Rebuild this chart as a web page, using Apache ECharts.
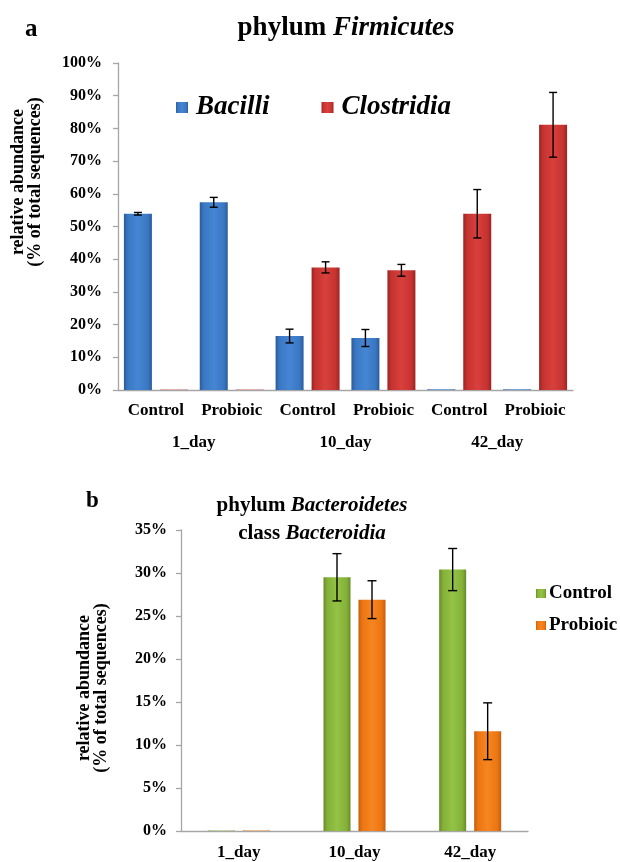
<!DOCTYPE html>
<html>
<head>
<meta charset="utf-8">
<script src="https://cdn.jsdelivr.net/npm/echarts@6/dist/echarts.min.js"></script>
<style>
  html, body { margin: 0; padding: 0; background: #fff; }
  #chart { width: 620px; height: 862px; }
</style>
</head>
<body>
<div id="chart"></div>
<script>
// ---- Panel a: phylum Firmicutes (relative abundance, %) ----
const subGroups = ['Control', 'Probioic', 'Control', 'Probioic', 'Control', 'Probioic'];
const days = ['1_day', '10_day', '42_day'];
const bacilli = [53.9, 57.4, 16.5, 15.9, 0.2, 0.2];
const bacilliErr = [0.4, 1.5, 2.1, 2.6, 0, 0];
const clostridia = [0.1, 0.1, 37.5, 36.6, 53.9, 81.1];
const clostridiaErr = [0, 0, 1.7, 1.8, 7.4, 9.9];
const yTicksA = { min: 0, max: 100, interval: 10 };

// ---- Panel b: phylum Bacteroidetes, class Bacteroidia ----
const controlB = [0.05, 29.5, 30.4];
const controlBErr = [0, 2.75, 2.45];
const probioicB = [0.05, 26.9, 11.6];
const probioicBErr = [0, 2.2, 3.3];
const yTicksB = { min: 0, max: 35, interval: 5 };

const SERIF = '"Liberation Serif", "Times New Roman", serif';
const AXIS_GRAY = '#a6a6a6';

function bevel(dark, mid, light) {
  return new echarts.graphic.LinearGradient(0, 0, 1, 0, [
    { offset: 0, color: dark },
    { offset: 0.14, color: mid },
    { offset: 0.5, color: light },
    { offset: 0.86, color: mid },
    { offset: 1, color: dark }
  ]);
}
const BLUE = bevel('#2a5b98', '#3a77c3', '#4586d4');
const RED = bevel('#9c2422', '#c53330', '#d8403c');
const GREEN = bevel('#678b28', '#84b038', '#93c346');
const ORANGE = bevel('#c45d0a', '#ec7512', '#f68621');

// error bars drawn through the axis scales; offset shifts to the bar's slot
function errorBars(offset, cap) {
  return function (params, api) {
    const err = api.value(2);
    if (!err) return null;
    const cat = api.value(0), v = api.value(1);
    const x = api.coord([cat, v])[0] + offset;
    const yHi = api.coord([cat, v + err])[1];
    const yLo = api.coord([cat, v - err])[1];
    const style = { stroke: '#000', lineWidth: 1.4 };
    return {
      type: 'group',
      children: [
        { type: 'line', shape: { x1: x, y1: yHi, x2: x, y2: yLo }, style },
        { type: 'line', shape: { x1: x - cap, y1: yHi, x2: x + cap, y2: yHi }, style },
        { type: 'line', shape: { x1: x - cap, y1: yLo, x2: x + cap, y2: yLo }, style }
      ]
    };
  };
}
function errData(vals, errs) {
  return vals.map((v, i) => [i, v, errs[i]]);
}

const BAR_A = 28, GAP_A = 8;
const BAR_B = 27, GAP_B = 8;
const offA = (BAR_A + GAP_A) / 2;
const offB = (BAR_B + GAP_B) / 2;

const axisLabelFont = { fontFamily: SERIF, fontWeight: 'bold', color: '#000' };

const option = {
  animation: false,
  backgroundColor: '#fff',
  title: [
    { text: 'a', left: 20, top: 12, textStyle: { fontFamily: SERIF, fontWeight: 'bold', fontSize: 25, color: '#000' } },
    {
      text: '{n|phylum }{i|Firmicutes}', left: 341, top: 10, textAlign: 'center',
      textStyle: {
        rich: {
          n: { fontFamily: SERIF, fontWeight: 'bold', fontSize: 27, color: '#000' },
          i: { fontFamily: SERIF, fontWeight: 'bold', fontStyle: 'italic', fontSize: 27, color: '#000' }
        }
      }
    },
    { text: 'b', left: 81, top: 485, textStyle: { fontFamily: SERIF, fontWeight: 'bold', fontSize: 23, color: '#000' } },
    {
      text: '{n|phylum }{i|Bacteroidetes}\n{n|class }{i|Bacteroidia}', left: 307, top: 487, textAlign: 'center',
      textStyle: {
        lineHeight: 28,
        rich: {
          n: { fontFamily: SERIF, fontWeight: 'bold', fontSize: 21, color: '#000', lineHeight: 28 },
          i: { fontFamily: SERIF, fontWeight: 'bold', fontStyle: 'italic', fontSize: 21, color: '#000', lineHeight: 28 }
        }
      }
    }
  ],
  legend: [
    {
      data: ['Bacilli', 'Clostridia'], left: 171, top: 89, itemWidth: 12, itemHeight: 11, itemGap: 52,
      icon: 'rect',
      textStyle: { fontFamily: SERIF, fontWeight: 'bold', fontStyle: 'italic', fontSize: 27, color: '#000', padding: [0, 0, 0, 3] }
    },
    {
      data: ['Control', 'Probioic'], left: 531, top: 579, orient: 'vertical', itemWidth: 10, itemHeight: 9, itemGap: 13,
      icon: 'rect',
      textStyle: { fontFamily: SERIF, fontWeight: 'bold', fontSize: 19, color: '#000', padding: [0, 0, 0, -2] }
    }
  ],
  graphic: [
    {
      type: 'text', x: 27, y: 182, rotation: Math.PI / 2,
      style: {
        text: 'relative abundance\n(% of total sequences)', align: 'center', verticalAlign: 'middle',
        fontFamily: SERIF, fontWeight: 'bold', fontSize: 18, lineHeight: 17, fill: '#000'
      }
    },
    {
      type: 'text', x: 93, y: 688, rotation: Math.PI / 2,
      style: {
        text: 'relative abundance\n(% of total sequences)', align: 'center', verticalAlign: 'middle',
        fontFamily: SERIF, fontWeight: 'bold', fontSize: 18, lineHeight: 17, fill: '#000'
      }
    }
  ],
  grid: [
    { left: 118, right: 47, top: 63, bottom: 472 },
    { left: 181, right: 92, top: 530, bottom: 31 }
  ],
  xAxis: [
    {
      type: 'category', gridIndex: 0, data: subGroups,
      axisLine: { lineStyle: { color: AXIS_GRAY, width: 1.3 } },
      axisTick: { alignWithLabel: false, interval: 0, length: 32, lineStyle: { color: AXIS_GRAY, width: 1.3 } },
      axisLabel: Object.assign({ fontSize: 17, margin: 12, interval: 0 }, axisLabelFont)
    },
    {
      type: 'category', gridIndex: 0, data: days, position: 'bottom',
      axisLine: { show: false },
      axisTick: { interval: 0, length: 63, lineStyle: { color: AXIS_GRAY, width: 1.3 } },
      axisLabel: Object.assign({ fontSize: 17, margin: 44, interval: 0 }, axisLabelFont)
    },
    {
      type: 'category', gridIndex: 1, data: days,
      axisLine: { lineStyle: { color: AXIS_GRAY, width: 1.3 } },
      axisTick: { interval: 0, length: 6, lineStyle: { color: AXIS_GRAY, width: 1.3 } },
      axisLabel: Object.assign({ fontSize: 17, margin: 13, interval: 0 }, axisLabelFont)
    }
  ],
  yAxis: [
    {
      type: 'value', gridIndex: 0, min: yTicksA.min, max: yTicksA.max, interval: yTicksA.interval,
      axisLine: { show: true, lineStyle: { color: AXIS_GRAY, width: 1.3 } },
      axisTick: { show: true, length: 5, lineStyle: { color: AXIS_GRAY, width: 1.3 } },
      splitLine: { show: false },
      axisLabel: Object.assign({ fontSize: 16, margin: 16, formatter: '{value}%' }, axisLabelFont)
    },
    {
      type: 'value', gridIndex: 1, min: yTicksB.min, max: yTicksB.max, interval: yTicksB.interval,
      axisLine: { show: true, lineStyle: { color: AXIS_GRAY, width: 1.3 } },
      axisTick: { show: true, length: 5, lineStyle: { color: AXIS_GRAY, width: 1.3 } },
      splitLine: { show: false },
      axisLabel: Object.assign({ fontSize: 16, margin: 14, formatter: '{value}%' }, axisLabelFont)
    }
  ],
  series: [
    {
      name: 'Bacilli', type: 'bar', xAxisIndex: 0, yAxisIndex: 0, data: bacilli,
      barWidth: BAR_A, barGap: (GAP_A / BAR_A * 100) + '%',
      itemStyle: { color: BLUE }
    },
    {
      name: 'Clostridia', type: 'bar', xAxisIndex: 0, yAxisIndex: 0, data: clostridia,
      barWidth: BAR_A, barGap: (GAP_A / BAR_A * 100) + '%',
      itemStyle: { color: RED }
    },
    {
      type: 'custom', xAxisIndex: 0, yAxisIndex: 0, renderItem: errorBars(-offA, 4),
      data: errData(bacilli, bacilliErr), z: 10, silent: true
    },
    {
      type: 'custom', xAxisIndex: 0, yAxisIndex: 0, renderItem: errorBars(offA, 4),
      data: errData(clostridia, clostridiaErr), z: 10, silent: true
    },
    {
      name: 'Control', type: 'bar', xAxisIndex: 2, yAxisIndex: 1, data: controlB,
      barWidth: BAR_B, barGap: (GAP_B / BAR_B * 100) + '%',
      itemStyle: { color: GREEN }
    },
    {
      name: 'Probioic', type: 'bar', xAxisIndex: 2, yAxisIndex: 1, data: probioicB,
      barWidth: BAR_B, barGap: (GAP_B / BAR_B * 100) + '%',
      itemStyle: { color: ORANGE }
    },
    {
      type: 'custom', xAxisIndex: 2, yAxisIndex: 1, renderItem: errorBars(-offB, 4.5),
      data: errData(controlB, controlBErr), z: 10, silent: true
    },
    {
      type: 'custom', xAxisIndex: 2, yAxisIndex: 1, renderItem: errorBars(offB, 4.5),
      data: errData(probioicB, probioicBErr), z: 10, silent: true
    }
  ]
};

const chart = echarts.init(document.getElementById('chart'), null, { renderer: 'canvas' });
chart.setOption(option);
</script>
</body>
</html>
